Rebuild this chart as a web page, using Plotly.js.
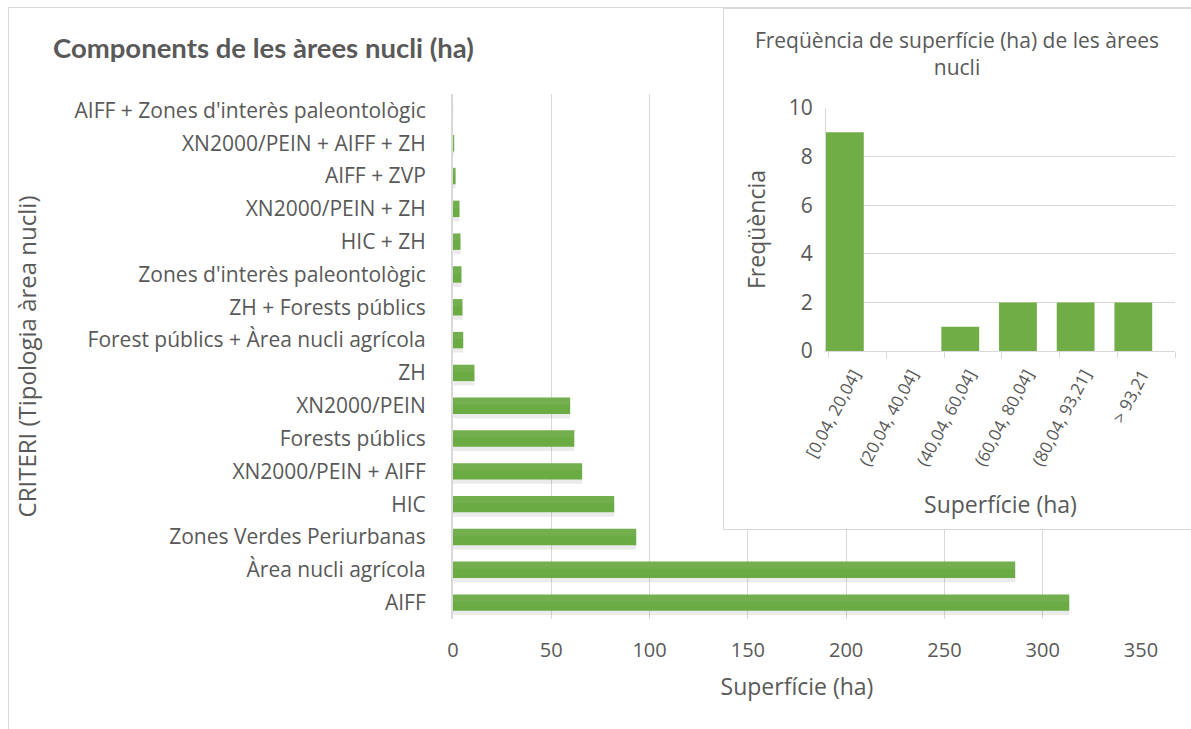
<!DOCTYPE html>
<html><head><meta charset="utf-8">
<script src="https://cdn.plot.ly/plotly-3.0.1.min.js"></script>
<style>
html,body{margin:0;padding:0;background:#fff;overflow:hidden;width:1191px;height:729px;}
#frame{position:absolute;left:8px;top:7px;width:1200px;height:740px;border:1px solid #d9d9d9;box-sizing:border-box;}
#main{position:absolute;left:0;top:0;width:1191px;height:729px;}
#inset{position:absolute;left:723px;top:8px;width:480px;height:522px;border:1px solid #d9d9d9;box-sizing:border-box;background:#fff;}
</style></head><body>
<div id="frame"></div>
<div id="main"></div>
<div id="inset"></div>
<script>
// Main chart data (bottom to top as drawn)
const categories = [
  "AIFF",
  "Àrea nucli agrícola",
  "Zones Verdes Periurbanas",
  "HIC",
  "XN2000/PEIN + AIFF",
  "Forests públics",
  "XN2000/PEIN",
  "ZH",
  "Forest públics + Àrea nucli agrícola",
  "ZH + Forests públics",
  "Zones d'interès paleontològic",
  "HIC + ZH",
  "XN2000/PEIN + ZH",
  "AIFF + ZVP",
  "XN2000/PEIN + AIFF + ZH",
  "AIFF + Zones d'interès paleontològic"
];
const areaHa = [313.5, 286.0, 93.21, 82.0, 65.7, 61.7, 59.6, 10.9, 5.2, 4.8, 4.3, 3.8, 3.3, 1.3, 0.6, 0.04];
const xTicks = [0, 50, 100, 150, 200, 250, 300, 350];

// Inset histogram data
const histBins = ["[0,04, 20,04]", "(20,04, 40,04]", "(40,04, 60,04]", "(60,04, 80,04]", "(80,04, 93,21]", "> 93,21"];
const histFreq = [9, 0, 1, 2, 2, 2];
const freqTicks = [0, 2, 4, 6, 8, 10];

const GREY = "#595959";
const LINE = "#d9d9d9";
const FONT = "Open Sans, Noto Sans, sans-serif";

const mainTraces = [
  { type: "bar", orientation: "h", x: areaHa, y: categories, width: 0.56, offset: -0.38,
    marker: { color: "rgba(0,0,0,0.08)" }, hoverinfo: "skip", showlegend: false },
  { type: "bar", orientation: "h", x: areaHa, y: categories, width: 0.5, offset: -0.25,
    marker: { color: "#6bab43" }, showlegend: false },
  { type: "bar", orientation: "h", x: areaHa, y: categories, width: 0.22, offset: 0.03,
    marker: { color: "rgba(255,255,255,0.06)" }, hoverinfo: "skip", showlegend: false }
];

const mainLayout = {
  width: 1191, height: 729,
  margin: { l: 0, r: 0, t: 0, b: 0 },
  paper_bgcolor: "rgba(0,0,0,0)", plot_bgcolor: "rgba(0,0,0,0)",
  barmode: "overlay",
  font: { family: FONT, color: GREY },
  title: { text: "Components de les àrees nucli (ha)",
    font: { family: "Lato, Open Sans, sans-serif", size: 27.5, color: GREY, weight: "bold" },
    xref: "paper", x: 53 / 1191, xanchor: "left", yref: "paper", y: 1 - 48 / 729, yanchor: "middle" },
  xaxis: {
    domain: [453 / 1191, 1141 / 1191], range: [0, 350], tickvals: xTicks,
    showgrid: true, gridcolor: LINE, gridwidth: 1, zeroline: false, showline: false, ticks: "",
    tickfont: { size: 20, color: GREY, family: FONT }, ticklabelstandoff: 17,
    title: { text: "Superfície (ha)", font: { size: 23, color: GREY, family: FONT }, standoff: 16 },
    fixedrange: true
  },
  yaxis: {
    domain: [1 - 619 / 729, 1 - 94 / 729], type: "category",
    showline: true, linecolor: LINE, linewidth: 2, showgrid: false, ticks: "",
    tickfont: { size: 21, color: GREY, family: FONT }, ticklabelstandoff: 21,
    title: { text: "CRITERI (Tipologia àrea nucli)", font: { size: 24, color: GREY, family: FONT }, standoff: 31 },
    fixedrange: true
  }
};

Plotly.newPlot("main", mainTraces, mainLayout, { displayModeBar: false, staticPlot: true });

const insetTraces = [
  { type: "bar", x: histBins, y: histFreq, width: 0.655, offset: -0.55,
    marker: { color: "#70AD47" }, showlegend: false }
];
const insetLayout = {
  width: 478, height: 520,
  margin: { l: 102, r: 27, t: 99, b: 178 },
  paper_bgcolor: "#ffffff", plot_bgcolor: "#ffffff",
  font: { family: FONT, color: GREY },
  title: { text: "Freqüència de superfície (ha) de les àrees<br>nucli",
    font: { size: 21, color: GREY, family: FONT },
    xref: "container", x: 233 / 478, xanchor: "center", yref: "container", y: 1 - 39 / 520, yanchor: "top" },
  xaxis: {
    type: "category", tickson: "boundaries", ticks: "outside", ticklen: 6, tickcolor: LINE,
    showline: true, linecolor: LINE, linewidth: 1, showgrid: false, tickangle: -62,
    tickfont: { size: 17, color: GREY, family: FONT }, ticklabelstandoff: 6, ticklabelshift: -4,
    title: { text: "Superfície (ha)", font: { size: 23, color: GREY, family: FONT }, standoff: 28 },
    fixedrange: true
  },
  yaxis: {
    range: [0, 10], tickvals: freqTicks, showgrid: true, gridcolor: LINE, zeroline: false,
    showline: true, linecolor: LINE, ticks: "", ticklabelstandoff: 8,
    tickfont: { size: 21, color: GREY, family: FONT },
    title: { text: "Freqüència", font: { size: 23, color: GREY, family: FONT }, standoff: 16 },
    fixedrange: true
  }
};
Plotly.newPlot("inset", insetTraces, insetLayout, { displayModeBar: false, staticPlot: true });
</script>
</body></html>
